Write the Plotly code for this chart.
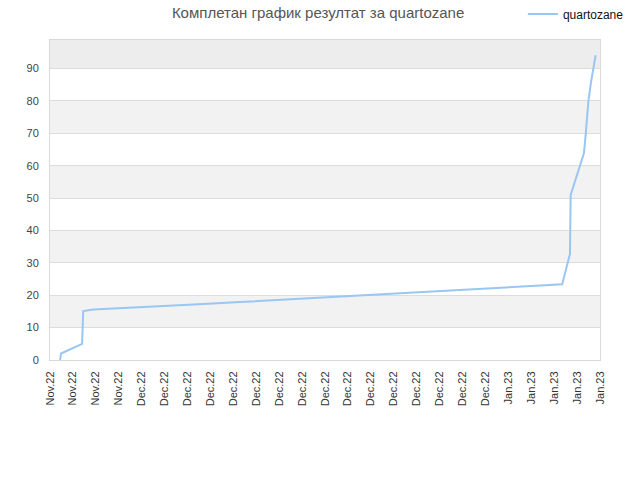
"""
Complete result chart for quartozane
"""

import plotly.graph_objects as go

# x positions are in tick-slot units (0 = first label, 24 = last label)
tick_labels = ["Nov.22"] * 4 + ["Dec.22"] * 16 + ["Jan.23"] * 5
x_pos = [0.44, 0.48, 1.40, 1.45, 1.89, 3.49, 5.09, 6.69, 8.29, 9.92, 11.53,
         13.13, 14.76, 16.36, 17.96, 19.59, 21.21, 22.35, 22.69, 22.72,
         23.30, 23.38, 23.49, 23.61, 23.81]
results = [0, 2.0, 5.0, 15.1, 15.6, 16.1, 16.8, 17.3, 17.9, 18.5, 19.2,
           19.8, 20.4, 20.9, 21.6, 22.3, 22.9, 23.4, 32.8, 51.0,
           63.9, 70.0, 79.7, 85.9, 94.1]
band_starts = [10, 30, 50, 70, 90]

Y_MAX = max(results) * 1.05

fig = go.Figure()
fig.add_trace(go.Scatter(
    x=x_pos, y=results, name="quartozane", mode="lines",
    line=dict(color="#99c6f2", width=2),
))

# alternating background stripes
for b in band_starts:
    fig.add_shape(type="rect", xref="paper", yref="y", x0=0, x1=1,
                  y0=b, y1=min(b + 10, Y_MAX), line_width=0, layer="below",
                  fillcolor="#ededed" if b == 90 else "#f2f2f2")

fig.update_layout(
    width=640, height=480,
    margin=dict(l=50, r=40, t=40, b=120, autoexpand=False),
    paper_bgcolor="white", plot_bgcolor="white",
    font=dict(family="Liberation Sans, Arial, sans-serif", size=11, color="#444"),
    title=dict(text="Комплетан график резултат за quartozane",
               x=0.497, xref="container", y=0.973, yref="container",
               xanchor="center", yanchor="middle",
               font=dict(size=15, color="#555")),
    showlegend=True,
    legend=dict(x=0.817, y=0.971, xref="container", yref="container",
                xanchor="left", yanchor="middle",
                bgcolor="rgba(0,0,0,0)", font=dict(size=12, color="#111"),
                itemwidth=30),
    xaxis=dict(range=[0, 24], tickmode="array", automargin=False,
               tickvals=list(range(len(tick_labels))), ticktext=tick_labels,
               tickangle=-90, showgrid=False, zeroline=False,
               showline=True, linecolor="#d9d9d9", mirror=True,
               ticks="outside", ticklen=6, tickcolor="rgba(0,0,0,0)",
               tickfont=dict(color="#333")),
    yaxis=dict(range=[0, Y_MAX], tickvals=list(range(0, 100, 10)),
               automargin=False,
               showgrid=True, gridcolor="#dcdcdc", zeroline=False,
               showline=True, linecolor="#d9d9d9", mirror=True,
               ticks="", ticklabelstandoff=8),
)

# the page's default body margin would shift the whole figure by 8px
fig.write_html("out.html", config={"displayModeBar": False},
               post_script="document.body.style.margin = '0';")
